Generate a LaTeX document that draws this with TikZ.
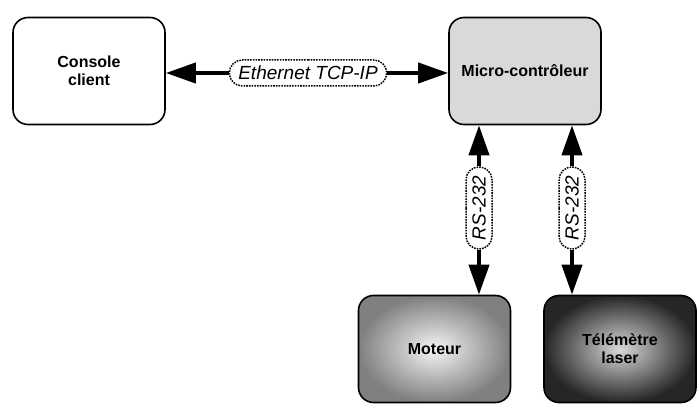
\documentclass[tikz,border=0pt]{standalone}
\usepackage{fontspec}
\setmainfont{Liberation Sans}
\usetikzlibrary{arrows.meta,shapes.misc}
\begin{document}
\begin{tikzpicture}[x=1pt,y=-1pt,
  box/.style={draw=black,line width=1.6pt,rounded corners=15pt,minimum width=152pt,minimum height=107pt,align=center,font=\bfseries\fontsize{16}{18}\selectfont},
  lab/.style={draw=black,dash pattern=on 1.6pt off 1.1pt,line width=1.5pt,rounded rectangle,inner xsep=7pt,inner ysep=3pt,minimum height=26pt,fill=white,font=\itshape\fontsize{19}{22}\selectfont},
  conn/.style={line width=4pt,-{Triangle[length=30pt,width=20pt]}}]
\useasboundingbox (0,0) rectangle (699,414);
\node[box] (cc) at (89,71) {Console\\client};
\node[box,fill=black!15] (mc) at (525,71) {Micro-contrôleur};
\node[box,inner color=white!96!black,outer color=black!50] (mo) at (434.5,349) {Moteur};
\node[box,inner color=white!85!black,outer color=black!85] (tl) at (620,349) {Télémètre\\laser};
\node[lab] (eth) at (308,73) {Ethernet TCP-IP};
\node[lab,rotate=90] (rs1) at (479,208) {RS-232};
\node[lab,rotate=90] (rs2) at (572,208) {RS-232};
\draw[conn] (eth.west) -- (cc.east |- eth.west);
\draw[conn] (eth.east) -- (mc.west |- eth.east);
\draw[conn] (rs1.east) -- (rs1.east |- mc.south);
\draw[conn] (rs1.west) -- (rs1.west |- mo.north);
\draw[conn] (rs2.east) -- (rs2.east |- mc.south);
\draw[conn] (rs2.west) -- (rs2.west |- tl.north);
\end{tikzpicture}
\end{document}
